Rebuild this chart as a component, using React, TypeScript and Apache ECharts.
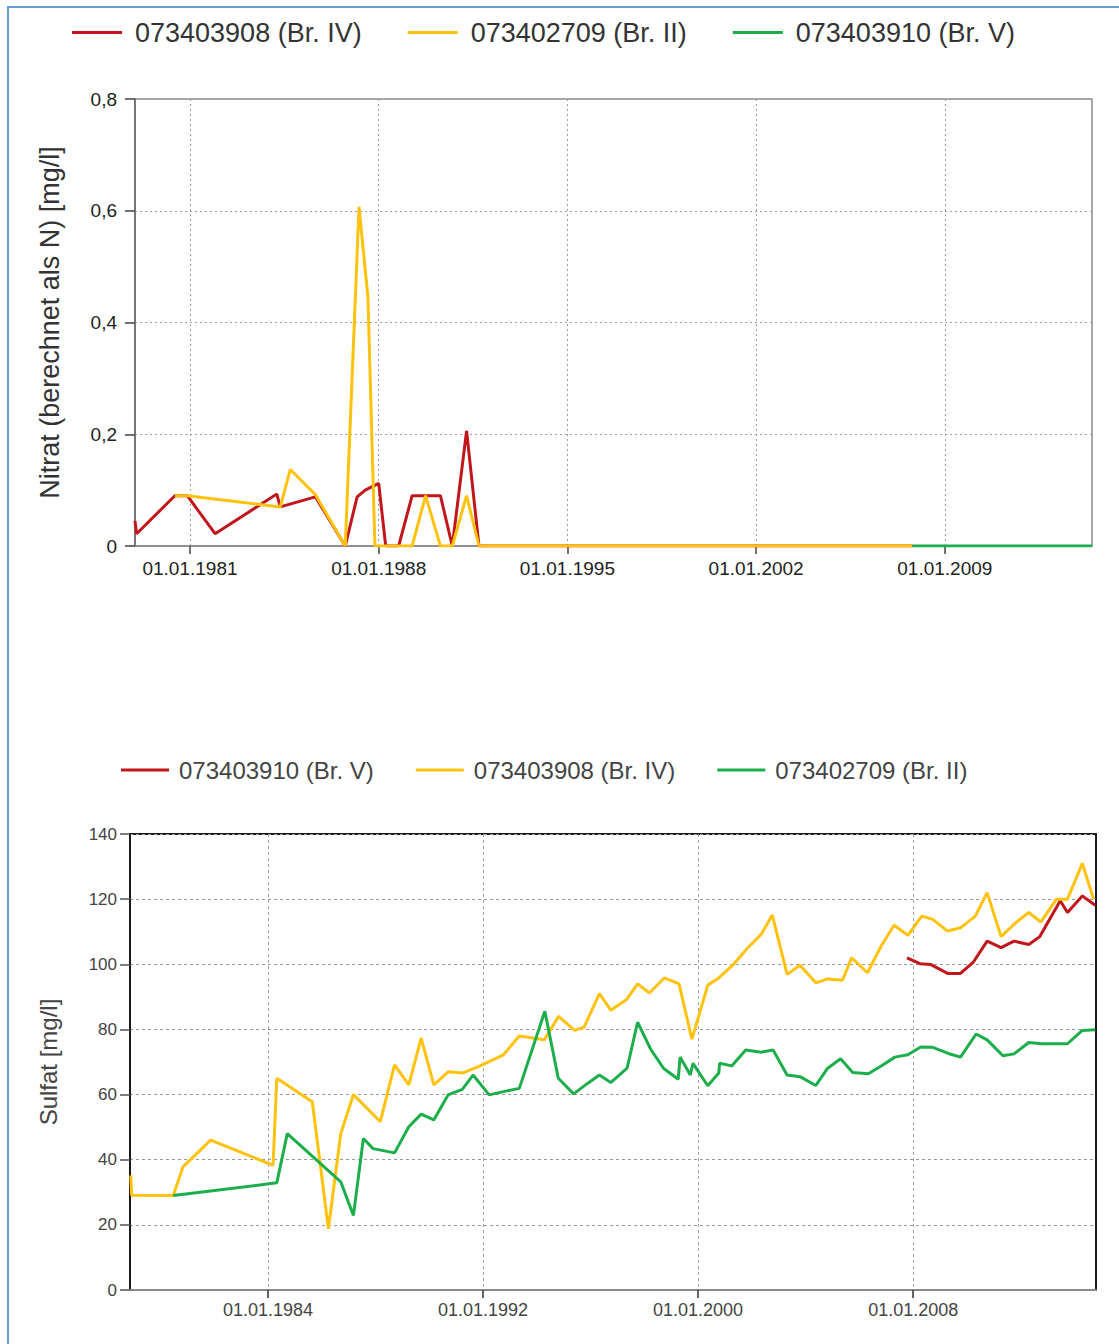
import React, { useEffect, useRef } from "react";
import * as echarts from "echarts";

// ---------- Data ----------
const nitratTicks = [1981, 1988, 1995, 2002, 2009];
const sulfatTicks = [1984, 1992, 2000, 2008];

const nitratSeriesNames = ["073403908 (Br. IV)", "073402709 (Br. II)", "073403910 (Br. V)"];
const sulfatSeriesNames = ["073403910 (Br. V)", "073403908 (Br. IV)", "073402709 (Br. II)"];

// Nitrat [mg/l] — [decimal year, value]
const nitratBrIV: [number, number][] = [
  [1978.96, 0.045], [1979.02, 0.022], [1980.44, 0.09], [1980.9, 0.09], [1981.93, 0.022],
  [1984.22, 0.093], [1984.35, 0.07], [1985.65, 0.088], [1986.76, 0], [1987.2, 0.088],
  [1987.5, 0.1], [1988.0, 0.112], [1988.26, 0], [1988.74, 0], [1989.24, 0.09],
  [1990.29, 0.09], [1990.73, 0], [1991.26, 0.206], [1991.72, 0], [2007.8, 0],
];
const nitratBrII: [number, number][] = [
  [1980.44, 0.09], [1980.9, 0.09], [1984.35, 0.07], [1984.72, 0.137], [1985.65, 0.092],
  [1986.76, 0], [1987.27, 0.607], [1987.6, 0.446], [1987.86, 0], [1989.24, 0],
  [1989.74, 0.09], [1990.29, 0], [1990.73, 0], [1991.26, 0.09], [1991.72, 0], [2007.8, 0],
];
const nitratBrV: [number, number][] = [
  [2007.8, 0], [2014.46, 0],
];

// Sulfat [mg/l] — [decimal year, value]
const sulfatBrV: [number, number][] = [
  [2007.77, 102], [2008.25, 100.2], [2008.66, 99.9], [2009.28, 97.2], [2009.76, 97.2],
  [2010.24, 100.7], [2010.75, 107.1], [2011.27, 105.1], [2011.75, 107.1], [2012.3, 106.1],
  [2012.71, 108.5], [2013.47, 119.5], [2013.74, 115.9], [2014.29, 121], [2014.77, 118.1],
];
const sulfatBrIV: [number, number][] = [
  [1978.9, 35.2], [1978.93, 29.1], [1980.48, 29], [1980.84, 37.8], [1981.87, 46],
  [1984.19, 38.3], [1984.33, 65], [1985.65, 57.8], [1986.25, 18.8], [1986.71, 48],
  [1987.18, 60], [1988.18, 51.7], [1988.71, 69.1], [1989.24, 63], [1989.7, 77.3],
  [1990.17, 63], [1990.7, 67], [1991.23, 66.6], [1991.83, 68.6], [1992.76, 72.2],
  [1993.35, 78], [1994.28, 76.8], [1994.81, 84], [1995.41, 79.7], [1995.76, 80.7],
  [1996.33, 91], [1996.75, 85.9], [1997.34, 89.2], [1997.75, 94], [1998.19, 91.2],
  [1998.74, 95.8], [1999.29, 94], [1999.77, 77], [2000.36, 93.6], [2000.77, 95.8],
  [2001.32, 100], [2001.8, 104.6], [2002.35, 109.2], [2002.76, 115.1], [2003.31, 96.9],
  [2003.79, 99.7], [2004.38, 94.3], [2004.82, 95.5], [2005.37, 95.1], [2005.71, 102],
  [2006.3, 97.4], [2006.81, 105.6], [2007.29, 112], [2007.8, 108.9], [2008.32, 114.8],
  [2008.73, 113.8], [2009.28, 110.2], [2009.76, 111.2], [2010.31, 114.8], [2010.75, 122],
  [2011.27, 108.5], [2011.82, 112.8], [2012.3, 115.9], [2012.75, 113], [2013.33, 120],
  [2013.74, 120], [2014.29, 131], [2014.71, 120],
];
const sulfatBrII: [number, number][] = [
  [1980.48, 29], [1984.33, 32.9], [1984.72, 48], [1986.71, 33.2], [1987.18, 22.9],
  [1987.55, 46.5], [1987.91, 43.4], [1988.71, 42.1], [1989.24, 50.1], [1989.7, 54],
  [1990.17, 52.2], [1990.7, 59.9], [1991.23, 61.6], [1991.63, 66], [1992.23, 59.9],
  [1992.76, 60.9], [1993.35, 61.9], [1994.3, 85.6], [1994.8, 65], [1995.37, 60.2],
  [1995.9, 63.5], [1996.33, 66], [1996.75, 63.7], [1997.36, 68.1], [1997.75, 82.2],
  [1998.23, 74], [1998.71, 68.1], [1999.26, 64.7], [1999.33, 71.5], [1999.71, 66],
  [1999.81, 69.6], [2000.36, 62.7], [2000.77, 66.6], [2000.8, 69.6], [2001.25, 68.8],
  [2001.77, 73.7], [2002.35, 73], [2002.79, 73.7], [2003.31, 66], [2003.79, 65.5],
  [2004.38, 62.8], [2004.82, 68.1], [2005.3, 71], [2005.75, 66.8], [2006.33, 66.4],
  [2006.81, 68.8], [2007.32, 71.5], [2007.8, 72.2], [2008.28, 74.6], [2008.73, 74.5],
  [2009.28, 72.7], [2009.76, 71.5], [2010.34, 78.6], [2010.75, 76.8], [2011.34, 71.9],
  [2011.75, 72.5], [2012.3, 76], [2012.78, 75.6], [2013.74, 75.6], [2014.29, 79.7],
  [2014.77, 79.9],
];

// ---------- Styles ----------
const RED = "#C0161C";
const YELLOW = "#FFC20E";
const GREEN = "#1DAE4C";
const FONT = "'Liberation Sans', Arial, sans-serif";

function lineSeries(name: string, data: [number, number][], color: string) {
  return {
    type: "line",
    name,
    data,
    showSymbol: false,
    symbol: "none",
    color,
    lineStyle: { color, width: 3 },
    emphasis: { disabled: true },
  };
}

function Chart({ option, style }: { option: any; style: React.CSSProperties }) {
  const ref = useRef<HTMLDivElement>(null);
  useEffect(() => {
    if (!ref.current) return;
    const chart = echarts.init(ref.current, undefined, { renderer: "svg" });
    chart.setOption(option);
    return () => chart.dispose();
  }, []);
  return <div ref={ref} style={style} />;
}

const topOption = {
  animation: false,
  legend: {
    left: 72,
    top: 19,
    padding: 0,
    icon: "rect",
    itemWidth: 50,
    itemHeight: 3,
    itemGap: 46,
    textStyle: { fontFamily: FONT, fontSize: 27, color: "#333", padding: [0, 0, 0, 8] },
    data: nitratSeriesNames,
  },
  grid: {
    left: 135,
    top: 99,
    width: 957,
    height: 447,
    show: true,
    borderColor: "#8a8a8a",
    borderWidth: 1.5,
  },
  xAxis: {
    type: "value",
    min: 1978.96,
    max: 2014.46,
    axisLine: { onZero: false, lineStyle: { color: "#8a8a8a", width: 1.5 } },
    axisTick: { show: true, length: 8, customValues: nitratTicks, lineStyle: { color: "#444", width: 1.5 } },
    axisLabel: {
      customValues: nitratTicks,
      formatter: (v: number) => "01.01." + v,
      margin: 13,
      fontFamily: FONT,
      fontSize: 19,
      color: "#222",
    },
    splitLine: { show: true, lineStyle: { type: [2, 3], color: "#a0a0a0", width: 1 } },
  },
  yAxis: {
    type: "value",
    min: 0,
    max: 0.8,
    interval: 0.2,
    name: "Nitrat (berechnet als N) [mg/l]",
    nameLocation: "middle",
    nameGap: 72,
    nameTextStyle: { fontFamily: FONT, fontSize: 27, color: "#333" },
    axisLine: { show: true, lineStyle: { color: "#777", width: 2 } },
    axisTick: { show: true, length: 10, lineStyle: { color: "#444", width: 1.5 } },
    axisLabel: {
      formatter: (v: number) => (v === 0 ? "0" : v.toFixed(1).replace(".", ",")),
      margin: 18,
      fontFamily: FONT,
      fontSize: 19,
      color: "#222",
    },
    splitLine: { show: true, lineStyle: { type: [2, 3], color: "#a0a0a0", width: 1 } },
  },
  series: [
    lineSeries(nitratSeriesNames[0], nitratBrIV, RED),
    lineSeries(nitratSeriesNames[1], nitratBrII, YELLOW),
    lineSeries(nitratSeriesNames[2], nitratBrV, GREEN),
  ],
};

const bottomOption = {
  animation: false,
  legend: {
    left: 121,
    top: 98,
    padding: 0,
    icon: "rect",
    itemWidth: 48,
    itemHeight: 3,
    itemGap: 42,
    textStyle: { fontFamily: FONT, fontSize: 24, color: "#444", padding: [0, 0, 0, 5] },
    data: sulfatSeriesNames,
  },
  grid: {
    left: 130,
    top: 174,
    width: 966,
    height: 456,
    show: true,
    borderColor: "#1a1a1a",
    borderWidth: 2,
  },
  xAxis: {
    type: "value",
    min: 1978.87,
    max: 2014.8,
    axisLine: { onZero: false, lineStyle: { color: "#8a8a8a", width: 2 } },
    axisTick: { show: true, length: 8, customValues: sulfatTicks, lineStyle: { color: "#333", width: 1.5 } },
    axisLabel: {
      customValues: sulfatTicks,
      formatter: (v: number) => "01.01." + v,
      margin: 11,
      fontFamily: FONT,
      fontSize: 18,
      color: "#444",
    },
    splitLine: { show: true, lineStyle: { type: [3, 3], color: "#a0a0a0", width: 1 } },
  },
  yAxis: {
    type: "value",
    min: 0,
    max: 140,
    interval: 20,
    name: "Sulfat [mg/l]",
    nameLocation: "middle",
    nameGap: 70,
    nameTextStyle: { fontFamily: FONT, fontSize: 24, color: "#444" },
    axisLine: { show: true, lineStyle: { color: "#1a1a1a", width: 2 } },
    axisTick: { show: true, length: 10, lineStyle: { color: "#555", width: 1.5 } },
    axisLabel: {
      margin: 13,
      fontFamily: FONT,
      fontSize: 17,
      color: "#444",
    },
    splitLine: { show: true, lineStyle: { type: [3, 3], color: "#999", width: 1 } },
  },
  series: [
    lineSeries(sulfatSeriesNames[0], sulfatBrV, RED),
    lineSeries(sulfatSeriesNames[1], sulfatBrIV, YELLOW),
    lineSeries(sulfatSeriesNames[2], sulfatBrII, GREEN),
  ],
};

export default function App() {
  return (
    <div
      style={{
        position: "absolute",
        left: 0,
        top: 0,
        width: 1119,
        height: 1344,
        background: "#fff",
        overflow: "hidden",
      }}
    >
      <div
        style={{
          position: "absolute",
          left: 7,
          top: 6,
          width: 1200,
          height: 1400,
          borderLeft: "2px solid #6b9ad6",
          borderTop: "2px solid #6b9ad6",
        }}
      />
      <Chart option={topOption} style={{ position: "absolute", left: 0, top: 0, width: 1119, height: 660 }} />
      <Chart option={bottomOption} style={{ position: "absolute", left: 0, top: 660, width: 1119, height: 684 }} />
    </div>
  );
}
